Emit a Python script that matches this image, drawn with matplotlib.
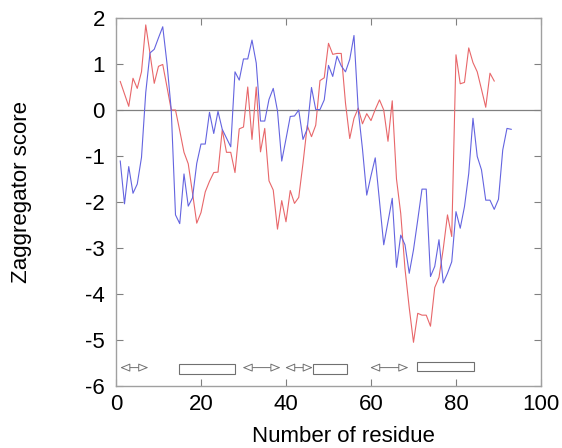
import matplotlib
matplotlib.use("Agg")
import matplotlib.pyplot as plt
import numpy as np

plt.rcParams['font.family'] = ['Liberation Sans', 'DejaVu Sans']
plt.rcParams['axes.unicode_minus'] = False

red_vals = [0.62, 0.35, 0.08, 0.69, 0.47, 0.83, 1.85, 1.23, 0.58, 0.95,
            0.99, 0.50, 0.0, 0.0, -0.45, -0.92, -1.17, -1.8, -2.46, -2.23,
            -1.78, -1.55, -1.36, -1.35, -0.43, -0.92, -0.92, -1.36, -0.41, -0.37,
            0.50, -0.64, 0.50, -0.91, -0.40, -1.54, -1.74, -2.59, -1.97, -2.43,
            -1.75, -2.03, -1.90, -1.16, -0.34, -0.58, -0.33, 0.64, 0.70, 1.45,
            1.21, 1.23, 1.23, 0.15, -0.62, -0.18, 0.04, -0.30, -0.08, -0.23,
            0.01, 0.22, 0.0, -0.68, 0.20, -1.5, -2.25, -3.45, -4.3, -5.05,
            -4.42, -4.46, -4.46, -4.70, -3.86, -3.64, -3.02, -2.28, -2.75, 1.2,
            0.57, 0.60, 1.35, 1.03, 0.83, 0.45, 0.06, 0.80, 0.63]

blue_vals = [-1.11, -2.04, -1.23, -1.81, -1.61, -1.03, 0.38, 1.24, 1.32, 1.57,
             1.81, 1.01, 0.0, -2.28, -2.47, -1.39, -2.09, -1.91, -1.16, -0.74,
             -0.74, -0.05, -0.51, -0.03, -0.42, -0.61, -0.80, 0.83, 0.65, 1.11,
             1.11, 1.52, 1.02, -0.24, -0.24, 0.23, 0.47, -0.02, -1.11, -0.63,
             -0.14, -0.13, 0.0, -0.64, -0.41, 0.49, 0.01, 0.01, 0.22, 0.97,
             0.73, 1.17, 0.96, 0.83, 1.10, 1.62, 0.0, -0.85, -1.85, -1.43,
             -1.04, -1.98, -2.93, -2.43, -1.92, -3.42, -2.72, -2.93, -3.55, -3.04,
             -2.39, -1.72, -1.72, -3.62, -3.40, -2.82, -3.76, -3.55, -3.30, -2.21,
             -2.57, -2.10, -1.38, -0.18, -1.01, -1.30, -1.96, -1.96, -2.16, -1.94,
             -0.87, -0.40, -0.42]

red_res = list(range(1, len(red_vals) + 1))
blue_res = list(range(1, len(blue_vals) + 1))

# secondary structure annotations: (start, end)
strand_segments = [(1, 7.6), (29.8, 38.7), (39.8, 46.3), (59.8, 68.8)]
strand_levels = [-5.6, -5.6, -5.6, -5.6]
helix_segments = [(14.9, 28.1), (46.4, 54.4), (70.9, 84.3)]
helix_levels = [(-5.73, -5.53), (-5.73, -5.53), (-5.68, -5.48)]

xticks = [0, 20, 40, 60, 80, 100]
yticks = [-6, -5, -4, -3, -2, -1, 0, 1, 2]

fig = plt.figure(figsize=(5.62, 4.48), dpi=100)
ax = fig.add_axes([0.2064, 0.1384, 0.7562, 0.8214])

ax.axhline(0, color='#808080', lw=0.9, zorder=1)
ax.plot(red_res, red_vals, color='#e8676a', lw=0.8, zorder=3)
ax.plot(blue_res, blue_vals, color='#6464e0', lw=0.8, zorder=3)

for (s, e), y in zip(strand_segments, strand_levels):
    ax.annotate('', xy=(e, y), xytext=(s, y),
                arrowprops=dict(arrowstyle='<|-|>,head_length=0.6,head_width=0.25',
                                fc='white', ec='#707070', lw=0.7,
                                shrinkA=0, shrinkB=0))
for (s, e), (y0, y1) in zip(helix_segments, helix_levels):
    ax.add_patch(plt.Rectangle((s, y0), e - s, y1 - y0, fill=False,
                               ec='#707070', lw=0.8))

ax.set_xlim(0, 100)
ax.set_ylim(-6, 2)
ax.set_xticks(xticks)
ax.set_yticks(yticks)
ax.tick_params(direction='in', length=5, width=0.8, color='#808080',
               top=True, right=True, labelsize=16, pad=6)
ax.tick_params(axis='y', pad=8)
for sp in ax.spines.values():
    sp.set_color('#a0a0a0')
    sp.set_linewidth(1.0)

ax.set_xlabel('Number of residue', fontsize=16)
ax.set_ylabel('Zaggregator score', fontsize=16)
ax.xaxis.set_label_coords(343 / 562, (448 - 436) / 448, transform=fig.transFigure)
ax.yaxis.set_label_coords(22 / 562, 1 - 192 / 448, transform=fig.transFigure)
ax.xaxis.label.set_va('center')
ax.yaxis.label.set_va('center')

fig.savefig('out.png', dpi=100)
